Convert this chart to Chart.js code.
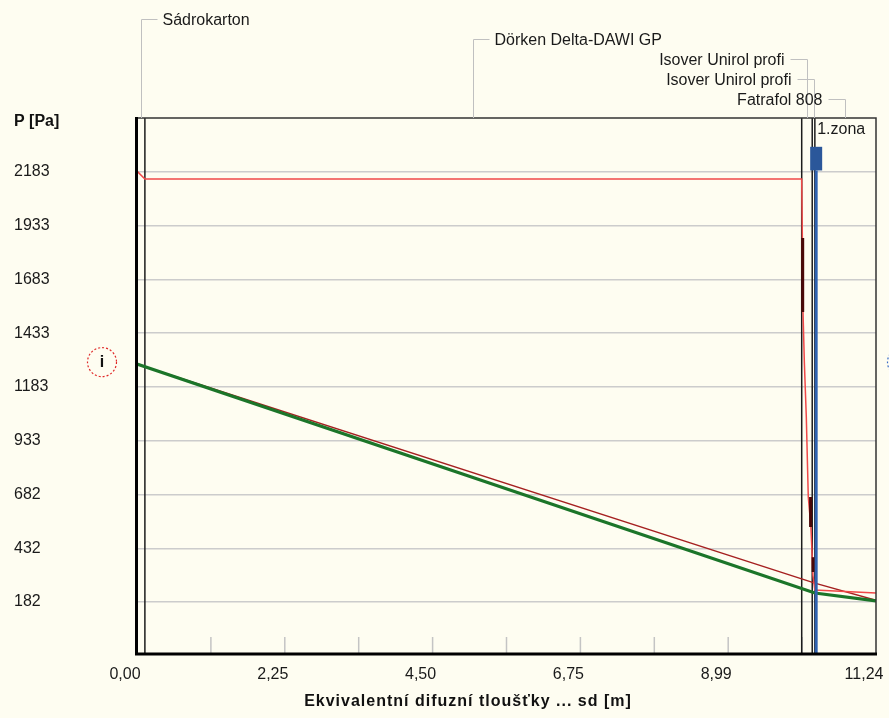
<!DOCTYPE html>
<html>
<head>
<meta charset="utf-8">
<script src="https://cdn.jsdelivr.net/npm/chart.js@4.4.0/dist/chart.umd.min.js"></script>
<style>
  html, body { margin: 0; padding: 0; background: #fefdf1; }
  #wrap { width: 889px; height: 718px; }
</style>
</head>
<body>
<div id="wrap"><canvas id="chart" width="889" height="718"></canvas></div>
<script>
// construction layers, boundaries in sd [m]
const layerNames = ['Sádrokarton', 'Dörken Delta-DAWI GP', 'Isover Unirol profi', 'Isover Unirol profi', 'Fatrafol 808'];
const layerBounds = [0, 0.12, 10.11, 10.27, 10.31, 11.24];

// axis ticks
const xTickValues = [0, 1.124, 2.248, 3.372, 4.496, 5.62, 6.744, 7.868, 8.992, 10.116, 11.24];
const xTickLabels = ['0,00', '', '2,25', '', '4,50', '', '6,75', '', '8,99', '', '11,24'];
const yTickValues = [182, 432, 682, 933, 1183, 1433, 1683, 1933, 2183];

// saturated vapour pressure (red)
const satSd = [0, 0.12, 10.11, 10.12, 10.13, 10.15, 10.18, 10.21, 10.25, 10.27, 10.28, 10.31, 11.24];
const satPa = [2187, 2150, 2150, 1876, 1531, 1299, 1043, 671, 531, 391, 308, 238, 224];

// partial vapour pressure (dark red)
const vapSd = [0, 10.31, 11.24];
const vapPa = [1289, 270, 190];

// corrected partial pressure with condensation (green)
const corrSd = [0, 10.31, 11.24];
const corrPa = [1289, 224, 187];

// dark marks on the saturation curve
const markSd = [10.125, 10.125, 10.125, 10.245, 10.245, 10.245, 10.285, 10.285];
const markPa = [1876, 1531, null, 671, 531, null, 391, 322];

// condensation zone
const zoneName = '1.zona';
const zoneSd = 10.33;
const zonePa = [-55, 2190, 2300];

const pts = (xs, ys) => xs.map((x, i) => ({ x: x, y: ys[i] }));

Chart.defaults.font.family = '"Liberation Sans", Arial, sans-serif';
Chart.defaults.font.size = 16;
Chart.defaults.color = '#1a1a1a';

const decor = {
  id: 'decor',
  beforeDatasetsDraw(chart) {
    const { ctx, chartArea: a, scales: { x } } = chart;
    ctx.save();
    // short tick marks on the x axis
    ctx.strokeStyle = '#c4c4c4';
    ctx.lineWidth = 1.5;
    xTickValues.slice(1, -1).forEach(v => {
      const px = x.getPixelForValue(v);
      ctx.beginPath();
      ctx.moveTo(px, a.bottom);
      ctx.lineTo(px, a.bottom - 16);
      ctx.stroke();
    });
    // layer boundaries
    ctx.strokeStyle = '#1c1c1c';
    ctx.lineWidth = 1.5;
    layerBounds.slice(1, -1).forEach(b => {
      const px = x.getPixelForValue(b);
      ctx.beginPath();
      ctx.moveTo(px, a.top);
      ctx.lineTo(px, a.bottom);
      ctx.stroke();
    });
    ctx.restore();
  },
  afterDraw(chart) {
    const { ctx, chartArea: a, scales: { x, y } } = chart;
    ctx.save();
    // frame
    ctx.strokeStyle = '#333';
    ctx.lineWidth = 1.5;
    ctx.beginPath();
    ctx.moveTo(a.left, a.top);
    ctx.lineTo(a.right, a.top);
    ctx.lineTo(a.right, a.bottom);
    ctx.stroke();
    ctx.strokeStyle = '#000';
    ctx.lineWidth = 3;
    ctx.beginPath();
    ctx.moveTo(a.left - 0.5, a.top - 1);
    ctx.lineTo(a.left - 0.5, a.bottom + 1);
    ctx.lineTo(a.right + 1, a.bottom + 1);
    ctx.stroke();

    // layer names with connectors
    ctx.font = '16px "Liberation Sans", Arial, sans-serif';
    ctx.textBaseline = 'middle';
    ctx.fillStyle = '#1a1a1a';
    ctx.strokeStyle = '#c0c0c0';
    ctx.lineWidth = 1;
    layerNames.forEach((name, i) => {
      const px = Math.round(x.getPixelForValue((layerBounds[i] + layerBounds[i + 1]) / 2)) + 0.5;
      const ly = Math.round(19 + i * 20) + 0.5;
      const w = ctx.measureText(name).width;
      const right = px + 22 + w < chart.width - 5;
      ctx.beginPath();
      ctx.moveTo(px, a.top);
      ctx.lineTo(px, ly);
      ctx.lineTo(right ? px + 16 : px - 17, ly);
      ctx.stroke();
      ctx.textAlign = right ? 'left' : 'right';
      ctx.fillText(name, right ? px + 21 : px - 23, ly + 1);
    });

    // condensation zone label
    ctx.textAlign = 'left';
    ctx.fillText(zoneName, x.getPixelForValue(zoneSd) + 1, a.top + 12);

    // axis titles
    ctx.font = 'bold 16px "Liberation Sans", Arial, sans-serif';
    ctx.fillStyle = '#111';
    ctx.fillText('P [Pa]', 14, 122);
    ctx.letterSpacing = '1px';
    ctx.textAlign = 'center';
    ctx.fillText('Ekvivalentní difuzní tloušťky ... sd [m]', 468, 702);
    ctx.letterSpacing = '0px';

    // interior / exterior markers
    const cy = y.getPixelForValue(corrPa[0]) - 2;
    [[102, '#e02828', 'i'], [902, '#3a6cc8', 'e']].forEach(([cx, col, t]) => {
      ctx.setLineDash([2, 2]);
      ctx.strokeStyle = col;
      ctx.lineWidth = 1.2;
      ctx.beginPath();
      ctx.arc(cx, cy, 14.5, 0, Math.PI * 2);
      ctx.stroke();
      ctx.setLineDash([]);
      ctx.fillStyle = '#111';
      ctx.fillText(t, cx, cy);
    });
    ctx.restore();
  }
};

const lineDs = (data, color, width, extra) => Object.assign({
  data: data,
  showLine: true,
  borderColor: color,
  borderWidth: width,
  pointRadius: 0,
  fill: false,
  tension: 0,
  spanGaps: false
}, extra || {});

new Chart(document.getElementById('chart').getContext('2d'), {
  type: 'scatter',
  data: {
    datasets: [
      lineDs(pts([zoneSd, zoneSd], [zonePa[0], zonePa[1]]), '#2f62b0', 3),
      lineDs(pts([zoneSd, zoneSd], [zonePa[1], zonePa[2]]), '#2b579a', 12, { borderCapStyle: 'butt' }),
      lineDs(pts(markSd, markPa), '#4a0808', 3, { borderCapStyle: 'butt' }),
      lineDs(pts(corrSd, corrPa), '#1b7529', 3.2),
      lineDs(pts(satSd, satPa), '#f04848', 1.5),
      lineDs(pts(vapSd, vapPa), '#a52020', 1.5)
    ]
  },
  options: {
    responsive: false,
    animation: false,
    events: [],
    layout: { padding: { left: 14, right: 13, top: 118, bottom: 0 } },
    plugins: { legend: { display: false }, tooltip: { enabled: false } },
    scales: {
      x: {
        type: 'linear',
        min: 0,
        max: 11.24,
        afterBuildTicks: s => { s.ticks = xTickValues.map(v => ({ value: v })); },
        afterFit: s => { s.height = 65; s.paddingLeft = 0; s.paddingRight = 0; },
        grid: { display: false },
        border: { display: false },
        ticks: {
          autoSkip: false,
          maxRotation: 0,
          padding: 4,
          labelOffset: -12,
          color: '#1a1a1a',
          callback: (v, i) => xTickLabels[i]
        }
      },
      y: {
        type: 'linear',
        min: -55,
        max: 2434,
        afterBuildTicks: s => { s.ticks = yTickValues.map(v => ({ value: v })); },
        afterFit: s => { s.width = 123; s.paddingTop = 0; s.paddingBottom = 0; },
        grid: { color: '#cccccc', lineWidth: 1.5, drawTicks: false },
        border: { display: false },
        ticks: {
          crossAlign: 'far',
          padding: 0,
          color: '#1a1a1a',
          callback: v => String(v)
        }
      }
    }
  },
  plugins: [decor]
});
</script>
</body>
</html>
